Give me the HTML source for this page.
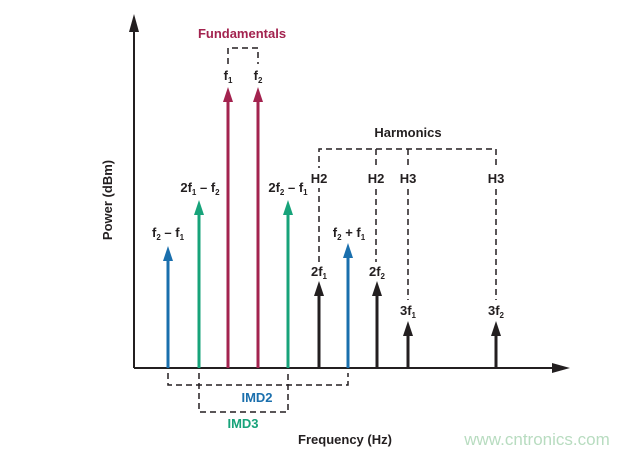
<!DOCTYPE html>
<html><head><style>body{margin:0;background:#fff}svg{display:block}text{font-family:"Liberation Sans",sans-serif;font-weight:bold}</style></head>
<body>
<svg width="639" height="454" viewBox="0 0 639 454" xmlns="http://www.w3.org/2000/svg">
<line x1="134" y1="368" x2="134" y2="28" stroke="#231f20" stroke-width="2"/>
<polygon points="134,14 129,32 139,32" fill="#231f20"/>
<line x1="134" y1="368" x2="555" y2="368" stroke="#231f20" stroke-width="2"/>
<polygon points="570,368 552,363 552,373" fill="#231f20"/>
<g fill="none" stroke="#231f20" stroke-width="1.5" stroke-dasharray="6,4">
<path d="M228,64 V48 H258 V64"/>
<path d="M319,262 V149 H496 V300"/>
<line x1="376" y1="149" x2="376" y2="262"/>
<line x1="408" y1="149" x2="408" y2="300"/>
<path d="M168,373 V385 H348 V373"/>
<path d="M199,373 V412 H288 V373"/>
</g>
<g fill="#fff">
<rect x="305" y="168" width="28" height="20"/><rect x="363" y="168" width="28" height="20"/>
<rect x="395" y="168" width="28" height="20"/><rect x="483" y="168" width="28" height="20"/>
<rect x="220" y="66" width="45" height="22"/>
</g>
<g stroke-width="3">
<line x1="168" y1="258" x2="168" y2="368" stroke="#1a6fad"/>
<line x1="348" y1="255" x2="348" y2="368" stroke="#1a6fad"/>
<line x1="199" y1="210" x2="199" y2="368" stroke="#17a37a"/>
<line x1="288" y1="210" x2="288" y2="368" stroke="#17a37a"/>
<line x1="228" y1="98" x2="228" y2="368" stroke="#a3234f"/>
<line x1="258" y1="98" x2="258" y2="368" stroke="#a3234f"/>
<line x1="319" y1="292" x2="319" y2="368" stroke="#231f20"/>
<line x1="377" y1="292" x2="377" y2="368" stroke="#231f20"/>
<line x1="408" y1="332" x2="408" y2="368" stroke="#231f20"/>
<line x1="496" y1="332" x2="496" y2="368" stroke="#231f20"/>
</g>
<g>
<polygon points="168,246 163,261 173,261" fill="#1a6fad"/>
<polygon points="348,243 343,258 353,258" fill="#1a6fad"/>
<polygon points="199,200 194,215 204,215" fill="#17a37a"/>
<polygon points="288,200 283,215 293,215" fill="#17a37a"/>
<polygon points="228,87 223,102 233,102" fill="#a3234f"/>
<polygon points="258,87 253,102 263,102" fill="#a3234f"/>
<polygon points="319,281 314,296 324,296" fill="#231f20"/>
<polygon points="377,281 372,296 382,296" fill="#231f20"/>
<polygon points="408,321 403,336 413,336" fill="#231f20"/>
<polygon points="496,321 491,336 501,336" fill="#231f20"/>
</g>
<g font-size="13" fill="#231f20" text-anchor="middle">
<text x="242" y="38" fill="#a3234f">Fundamentals</text>
<text x="408" y="137">Harmonics</text>
<text x="228" y="80">f<tspan font-size="8" dy="3">1</tspan></text>
<text x="258" y="80">f<tspan font-size="8" dy="3">2</tspan></text>
<text x="200" y="192">2f<tspan font-size="8" dy="3">1</tspan><tspan dy="-3"> – f</tspan><tspan font-size="8" dy="3">2</tspan></text>
<text x="288" y="192">2f<tspan font-size="8" dy="3">2</tspan><tspan dy="-3"> – f</tspan><tspan font-size="8" dy="3">1</tspan></text>
<text x="168" y="237">f<tspan font-size="8" dy="3">2</tspan><tspan dy="-3"> – f</tspan><tspan font-size="8" dy="3">1</tspan></text>
<text x="349" y="237">f<tspan font-size="8" dy="3">2</tspan><tspan dy="-3"> + f</tspan><tspan font-size="8" dy="3">1</tspan></text>
<text x="319" y="183">H2</text><text x="376" y="183">H2</text>
<text x="408" y="183">H3</text><text x="496" y="183">H3</text>
<text x="319" y="276">2f<tspan font-size="8" dy="3">1</tspan></text>
<text x="377" y="276">2f<tspan font-size="8" dy="3">2</tspan></text>
<text x="408" y="315">3f<tspan font-size="8" dy="3">1</tspan></text>
<text x="496" y="315">3f<tspan font-size="8" dy="3">2</tspan></text>
<text x="257" y="402" fill="#1a6fad">IMD2</text>
<text x="243" y="428" fill="#17a37a">IMD3</text>
<text x="345" y="444">Frequency (Hz)</text>
<text transform="translate(112,200) rotate(-90)">Power (dBm)</text>
</g>
<text x="537" y="445" font-size="17" fill="#b8dcc0" text-anchor="middle" style="font-weight:normal">www.cntronics.com</text>
</svg>
</body></html>
